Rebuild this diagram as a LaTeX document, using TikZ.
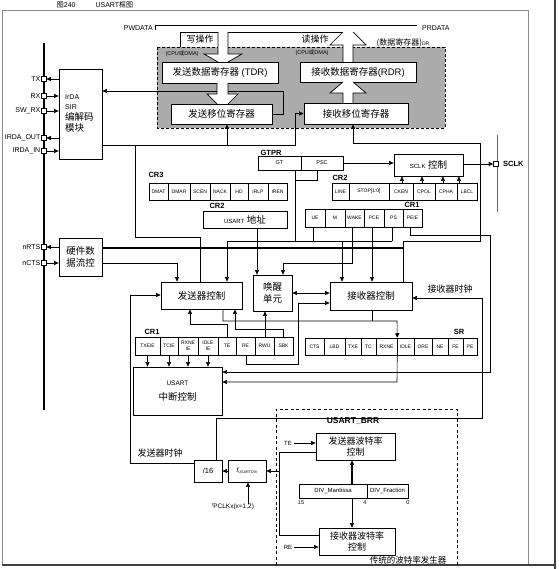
\documentclass[tikz,border=0pt]{standalone}
\usepackage{fontspec}
\setmainfont{Liberation Sans}
\newfontfamily\cjk{Noto Sans CJK SC}
\usetikzlibrary{arrows.meta}
\newcommand\ZH[1]{{\cjk #1}}
\newcommand\FS[2]{\fontsize{#1}{#2}\selectfont}
\begin{document}
\begin{tikzpicture}[x=1pt,y=-1pt,>={Triangle[length=4.5pt,width=4pt]}]
\tikzset{
  conn/.style={line width=0.6pt},
  arr/.style={conn,->},
  dbl/.style={conn,<->},
  box/.style={draw,line width=0.75pt,fill=white,inner sep=0pt,align=center,font=\FS{9.5}{11.5}},
  cell/.style={draw,line width=0.5pt,fill=white,inner sep=0pt,align=center,font=\FS{5}{5.6}},
  pinbox/.style={draw,line width=0.6pt,fill=white,minimum size=5pt,inner sep=0pt},
  pinlbl/.style={inner sep=0pt,font=\FS{7}{8}},
  reglbl/.style={inner sep=0pt,font=\bfseries\FS{7.5}{8}},
  txt/.style={inner sep=0pt,font=\FS{9}{10}},
  small/.style={inner sep=0pt,font=\FS{5.5}{6}},
  hollow/.style={line width=0.7pt},
}
\useasboundingbox (0,0) rectangle (558,569);
\fill[white] (0,0) rectangle (558,569);

% frame
\draw[black!45,line width=0.7pt] (2,565) -- (2,10) -- (528,10) -- (528,565);
\draw[black!75,line width=1.4pt] (2,565) -- (555,565);
\draw[black!75,line width=1.4pt] (555,0) -- (555,569);
\node[anchor=base,inner sep=0pt,font=\FS{7}{8}] (title) at (95,7.5) {\ZH{图}240\hspace{20pt}USART\ZH{框图}};

% gray DMA region
\fill[black!33] (157,47) rectangle (445,128);
\draw[line width=0.8pt,dash pattern=on 3pt off 2pt] (157,47) rectangle (445,128);

% data buses
\draw[hollow] (155,30) -- (155,25) -- (417,25);
\draw[hollow] (180,47) -- (180,32) -- (218,32);
\draw[hollow] (228,32) -- (343,32);
\node[inner sep=0pt,anchor=east,font=\FS{7}{8}] (pwdata) at (153,28) {PWDATA};
\node[inner sep=0pt,anchor=west,font=\FS{7}{8}] (prdata) at (422,28) {PRDATA};
\node[txt] (wop) at (200,39) {\ZH{写操作}};
\node[txt] (rop) at (315,39) {\ZH{读操作}};
\node[small] (cpu1) at (182,54) {(CPU\ZH{或}DMA)};
\node[small] (cpu2) at (312,53) {(CPU\ZH{或}DMA)};
\node[inner sep=0pt,font=\FS{8}{9}] (drl) at (403,43) {\ZH{(数据寄存器)}{\FS{5}{6}DR}};

% registers in DMA area
\node[box,minimum width=116,minimum height=21] (tdr) at (220,72.5) {\ZH{发送数据寄存器} (TDR)};
\node[box,minimum width=101,minimum height=20] (tsr) at (221.5,114) {\ZH{发送移位寄存器}};
\node[box,minimum width=116,minimum height=20] (rdr) at (358,72) {\ZH{接收数据寄存器}(RDR)};
\node[box,minimum width=104,minimum height=21] (rsr) at (356,113.5) {\ZH{接收移位寄存器}};

% left pin bus
\draw[line width=1.6pt] (44,43) -- (44,410);
\node[box,minimum width=43,minimum height=90] (irda) at (80.5,114) {};
\node[anchor=west,align=left,inner sep=0pt,font=\FS{9.5}{11}] (irdatxt) at (65,113)
  {{\FS{7}{7}IrDA}\\[-1pt]{\FS{7}{7}SIR}\\\ZH{编解码}\\\ZH{模块}};
\node[box,minimum width=43,minimum height=38] (hwf) at (80.5,257) {\ZH{硬件数}\\\ZH{据流控}};
\foreach \n/\y/\t in {tx/79/TX,rx/96/RX,swrx/111/SW\_RX,irout/138/IRDA\_OUT,irin/151/IRDA\_IN,nrts/247/nRTS,ncts/263/nCTS}{
  \node[pinbox] (\n) at (43.5,\y) {};
  \node[pinlbl,anchor=east] (\n-l) at (40.5,\y) {\t};
}
\draw[arr] (irda.west |- tx) -- (tx.east);
\draw[arr] (rx.east) -- (irda.west |- rx);
\draw[arr] (swrx.east) -- (irda.west |- swrx);
\draw[arr] (irda.west |- irout) -- (irout.east);
\draw[arr] (irin.east) -- (irda.west |- irin);
\draw[arr] (hwf.west |- nrts) -- (nrts.east);
\draw[arr] (ncts.east) -- (hwf.west |- ncts);

% transmit shift register -> IrDA
\draw[arr] (tsr.east) -- (283,114) -- (283,91) -- (irda.east |- 0,91);

% hollow arrows
\fill[white] (218,32) -- (218,54) -- (204,54) -- (218,62) -- (228,62) -- (242,54) -- (228,54) -- (228,32) -- cycle;
\draw[hollow] (218,32) -- (218,54) -- (204,54) -- (218,62);
\draw[hollow] (228,32) -- (228,54) -- (242,54) -- (228,62);
\fill[white] (217,83) -- (217,94) -- (207,94) -- (217,104) -- (228,104) -- (238,94) -- (228,94) -- (228,83) -- cycle;
\draw[hollow] (217,83) -- (217,94) -- (207,94) -- (217,104);
\draw[hollow] (228,83) -- (228,94) -- (238,94) -- (228,104);
\fill[white] (343,103) -- (343,93) -- (330,93) -- (343,82) -- (353,82) -- (366,93) -- (353,93) -- (353,103) -- cycle;
\draw[hollow] (343,103) -- (343,93) -- (330,93) -- (343,82);
\draw[hollow] (353,103) -- (353,93) -- (366,93) -- (353,82);
\fill[white] (343,62) -- (343,45) -- (330,45) -- (343,32) -- (353,32) -- (366,45) -- (353,45) -- (353,62) -- cycle;
\draw[hollow] (343,62) -- (343,45) -- (330,45) -- (343,32);
\draw[hollow] (353,62) -- (353,45) -- (366,45) -- (353,32);

% GTPR, SCLK
\node[reglbl] (gtprl) at (271,153) {GTPR};
\node[cell,minimum width=43,minimum height=14,font=\FS{5.5}{6}] (gt) at (279.5,163) {GT};
\node[cell,minimum width=42,minimum height=14,font=\FS{5.5}{6}] (psc) at (322,163) {PSC};
\node[box,minimum width=69,minimum height=22] (sclkc) at (428.5,165) {{\FS{6}{7}SCLK} \ZH{控制}};
\draw[line width=1pt,black!60] (497,135) -- (497,212);
\node[pinbox] (sclkpin) at (496,164) {};
\node[inner sep=0pt,anchor=west,font=\bfseries\FS{7.5}{8}] (sclkl) at (503,164) {SCLK};
\draw[arr] (psc.east) -- (sclkc.west |- psc.east);
\draw[arr] (sclkc.east |- sclkpin) -- (sclkpin.west);

% CR3
\node[reglbl] (cr3l) at (156,175) {CR3};
\foreach \a/\b/\t [count=\i] in {149/168/DMAT,168/190/DMAR,190/210/SCEN,210/230/NACK,230/248/HD,248/268/IRLP,268/287/IREN}
  \node[cell,minimum width={\b-\a},minimum height=17] (cr3-\i) at ({(\a+\b)/2},191.5) {\t};
% CR2 (upper right)
\node[reglbl] (cr2l) at (340,178) {CR2};
\foreach \a/\b/\t [count=\i] in {332/349/LINE,349/389/{STOP[1:0]},389/413/CKEN,413/435/CPOL,435/457/CPHA,457/477/LBCL}
  \node[cell,minimum width={\b-\a},minimum height=17] (cr2-\i) at ({(\a+\b)/2},191.5) {\t};
\foreach \i/\x in {3/402,4/422,5/443,6/459}
  \draw[arr] (cr2-\i.north -| \x,0) -- (sclkc.south -| \x,0);
% CR2 address
\node[reglbl] (cr2al) at (217,206) {CR2};
\node[box,minimum width=84,minimum height=17] (addr) at (245,219.5) {{\FS{6}{7}USART} \ZH{地址}};
% CR1 (upper)
\node[reglbl] (cr1al) at (412,205) {CR1};
\foreach \a/\b/\t [count=\i] in {305/325/UE,325/345/M,345/364/WAKE,364/384/PCE,384/403/PS,403/422/PEIE}
  \node[cell,minimum width={\b-\a},minimum height=18] (cr1a-\i) at ({(\a+\b)/2},218) {\t};

% control blocks
\node[box,minimum width=81,minimum height=27] (txc) at (201.5,295.5) {\ZH{发送器控制}};
\node[box,minimum width=39,minimum height=36] (wake) at (272.5,293) {\ZH{唤醒}\\\ZH{单元}};
\node[box,minimum width=82,minimum height=28] (rxc) at (371,296) {\ZH{接收器控制}};
\node[box,minimum width=89,minimum height=48] (int) at (177.5,391) {{\FS{6.5}{8}USART}\\[4pt]\ZH{中断控制}};

% CR1 (lower)
\node[reglbl] (cr1bl) at (152,332) {CR1};
\foreach \a/\b/\t [count=\i] in {135/160/TXEIE,160/178/TCIE,178/198/{RXNE\\IE},198/218/{IDLE\\IE},218/236/TE,236/255/RE,255/274/RWU,274/293/SBK}
  \node[cell,minimum width={\b-\a},minimum height=18] (cr1b-\i) at ({(\a+\b)/2},346) {\t};
% SR
\node[reglbl] (srl) at (459,332) {SR};
\foreach \a/\b/\t [count=\i] in {305/324/CTS,324/345/LBD,345/361/TXE,361/376/TC,376/397/RXNE,397/414/IDLE,414/432/ORE,432/448/NE,448/463/FE,463/477/PE}
  \node[cell,minimum width={\b-\a},minimum height=17] (sr-\i) at ({(\a+\b)/2},346.5) {\t};

% connections: data paths
\draw[arr] (irda.east |- 0,145) -- (295,145) -- (295,113.5) -- (rsr.west);
\draw[arr] (txc.north -| 200,0) -- (200,237) -- (135,237) -- (135,145) -- (227,145) -- (tsr.south -| 227,0);
\draw[arr] (rxc.north -| 403,0) -- (403,241) -- (480,241) -- (480,143) -- (353,143) -- (rsr.south -| 353,0);
\draw[line width=1.1pt] (hwf.east |- 0,248) -- (403,248);
\draw[arr] (hwf.east |- ncts) -- (177,263) -- (txc.north -| 177,0);

% GTPR / CR1 to controls
\draw[conn] (gt.south -| 295,0) -- (295,241);
\draw[conn] (psc.south -| 317,0) -- (317,180) -- (295,180);
\draw[conn] (cr1a-1.south -| 313,0) -- (313,241);
\draw[conn] (cr1a-5.south -| 392,0) -- (392,241);
\draw[conn] (227,241) -- (392,241);
\draw[arr] (227,241) -- (txc.north -| 227,0);
\draw[arr] (342,241) -- (rxc.north -| 342,0);
\draw[arr] (addr.south -| 257,0) -- (wake.north -| 257,0);
\draw[arr] (cr1a-3.south -| 352,0) -- (352,263) -- (283,263) -- (wake.north -| 283,0);
\draw[arr] (cr1a-4.south -| 372,0) -- (rxc.north -| 372,0);
\draw[arr] (cr1a-6.south -| 410,0) -- (410,235) -- (490,235) -- (490,372) -- (int.east |- 0,372);
\draw[dbl] (wake.east |- 0,293) -- (rxc.west |- 0,293);

% lower CR1 to controls
\draw[arr] (cr1b-6.south -| 246,0) -- (246,364) -- (298,364) -- (298,303) -- (rxc.west |- 0,303);
\draw[arr] (cr1b-5.north) -- (227,324) -- (190,324) -- (txc.south -| 190,0);
\draw[arr] (cr1b-8.north -| 283,0) -- (283,329) -- (235,329) -- (txc.south -| 235,0);
\draw[arr] (cr1b-7.north -| 265,0) -- (wake.south -| 265,0);
\draw[arr] (txc.south -| 223,0) -- (223,321) -- (397,321) -- (sr-5.north east);
\draw[conn] (rxc.south -| 372,0) -- (372,321);
\draw[arr] (sr-5.south east) -- (397,382) -- (int.east |- 0,382);
\foreach \i in {1,2,3,4}
  \draw[arr] (cr1b-\i.south) -- (int.north -| cr1b-\i.south);

% clocks
\node[box,minimum width=28,minimum height=22,font=\FS{7.5}{8}] (div16) at (208,471) {/16};
\node[box,minimum width=38,minimum height=22,font=\FS{6.5}{7}] (fdiv) at (247,471) {{\itshape f}\raisebox{-1pt}{\FS{3.8}{4}USARTDIV}};
\draw[arr] (div16.north -| 216,0) -- (216,418) -- (482,418) -- (482,298) -- (rxc.east |- 0,298);
\draw[arr] (div16.west |- 0,463) -- (130,463) -- (130,295) -- (txc.west |- 0,295);
\node[txt] (rxclk) at (450,289) {\ZH{接收器时钟}};
\node[txt] (txclk) at (160,453) {\ZH{发送器时钟}};
\draw[arr] (fdiv.west) -- (div16.east);
\node[inner sep=0pt,font=\FS{6.5}{7}] (fpclk) at (233,507) {\raisebox{2pt}{\FS{4.5}{5}\itshape f}PCLKx(x=1,2)};
\draw[arr] (fpclk.north -| 248,0) -- (fdiv.south -| 248,0);

% baud rate generator
\draw[line width=0.7pt,dash pattern=on 3pt off 2.5pt] (276,565) -- (276,409) -- (457,409) -- (457,565);
\node[inner sep=0pt,font=\bfseries\FS{8.5}{9}] (brrl) at (353,421) {USART\_BRR};
\node[box,minimum width=79,minimum height=27,font=\FS{9}{11}] (txbaud) at (355.5,446.5) {\ZH{发送器波特率}\\\ZH{控制}};
\node[box,minimum width=76,minimum height=27,font=\FS{9}{11}] (rxbaud) at (357,541.5) {\ZH{接收器波特率}\\\ZH{控制}};
\node[cell,minimum width=68,minimum height=14,font=\FS{6}{7}] (divm) at (333,491) {DIV\_Mantissa};
\node[cell,minimum width=41,minimum height=14,font=\FS{6}{7}] (divf) at (387.5,491) {DIV\_Fraction};
\node[inner sep=0pt,font=\FS{5.5}{6}] (b15) at (301,503) {15};
\node[inner sep=0pt,font=\FS{5.5}{6}] (b4) at (365,503) {4};
\node[inner sep=0pt,font=\FS{5.5}{6}] (b0) at (408,503) {0};
\draw[arr,line width=1.4pt] (divm.north -| 352,0) -- (txbaud.south -| 352,0);
\draw[arr] (divm.south -| 352,0) -- (rxbaud.north -| 352,0);
\node[inner sep=0pt,font=\FS{6}{7}] (tel) at (288,443) {TE};
\node[inner sep=0pt,font=\FS{6}{7}] (rel) at (288,547) {RE};
\draw[arr] (tel.east) ++(2,0) -- (txbaud.west |- tel);
\draw[arr] (rel.east) ++(2,0) -- (rxbaud.west |- rel);
\coordinate (brrj) at (279,471);
\draw[conn] (txbaud.west |- 0,452) -- (279,452) -- (279,535) -- (rxbaud.west |- 0,535);
\draw[arr] (brrj) -- (fdiv.east);
\node[inner sep=0pt,font=\FS{8.5}{9}] (oldbrr) at (408,560) {\ZH{传统的波特率发生器}};
\end{tikzpicture}
\end{document}
